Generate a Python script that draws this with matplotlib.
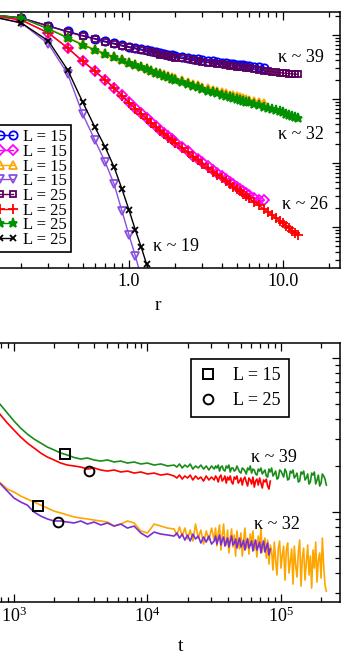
import matplotlib
matplotlib.use('Agg')
import matplotlib.pyplot as plt
import numpy as np
from matplotlib.ticker import LogLocator, FixedLocator, FixedFormatter, NullFormatter

plt.rcParams['font.family'] = ['Liberation Serif', 'DejaVu Serif']
plt.rcParams['mathtext.fontset'] = 'stix'

# ---- top panel: G(r), stored as log10 G ----
r_L25 = [0.1, 0.2, 0.3, 0.4, 0.5, 0.6, 0.7, 0.8, 0.9, 1.0,
         1.1, 1.2, 1.3, 1.4, 1.5, 1.6, 1.7, 1.8, 1.9, 2.0,
         2.2, 2.4, 2.6, 2.8, 3.0,
         3.25, 3.5, 3.75, 4.0, 4.25, 4.5, 4.75, 5.0, 5.25, 5.5, 5.75, 6.0,
         6.5, 7.0, 7.5, 8.0, 8.5, 9.0, 9.5, 10.0, 10.5, 11.0, 11.5, 12.0, 12.5]
r_L15 = r_L25[:40]
r_k19 = [0.1, 0.2, 0.3, 0.4, 0.5, 0.6, 0.7, 0.8, 0.9, 1.0, 1.1, 1.2, 1.3, 1.4, 1.5]

lg39_L15 = [0.344, 0.266, 0.141, 0.055, -0.008, -0.055, -0.098, -0.130, -0.159, -0.183,
            -0.203, -0.222, -0.241, -0.258, -0.272, -0.286, -0.298, -0.309, -0.319, -0.328,
            -0.344, -0.359, -0.372, -0.383, -0.392,
            -0.403, -0.414, -0.423, -0.433, -0.441, -0.448, -0.456, -0.463, -0.469, -0.475, -0.481, -0.486,
            -0.495, -0.503, -0.509]
lg26_L15 = [0.344, 0.234, 0.031, -0.203, -0.414, -0.563, -0.703, -0.828, -0.945, -1.047,
            -1.138, -1.219, -1.292, -1.359, -1.425, -1.484, -1.536, -1.586, -1.630, -1.672,
            -1.750, -1.820, -1.883, -1.941, -1.992,
            -2.053, -2.109, -2.161, -2.211, -2.255, -2.297, -2.336, -2.372, -2.406, -2.438, -2.469, -2.497,
            -2.544, -2.578, -2.586]
lg32_L15 = [0.344, 0.266, 0.102, -0.036, -0.144, -0.222, -0.284, -0.336, -0.381, -0.422,
            -0.458, -0.491, -0.520, -0.547, -0.572, -0.595, -0.617, -0.638, -0.656, -0.675,
            -0.708, -0.738, -0.764, -0.788, -0.809,
            -0.834, -0.856, -0.877, -0.895, -0.913, -0.930, -0.945, -0.959, -0.973, -0.986, -0.998, -1.009,
            -1.031, -1.050, -1.067]
lg19_L15 = [0.344, 0.188, -0.141, -0.609, -1.234, -1.641, -1.984, -2.328, -2.750, -3.125,
            -3.453, -3.781, -4.094, -4.406, -4.719]
lg39_L25 = [0.344, 0.266, 0.141, 0.047, -0.016, -0.063, -0.109, -0.141, -0.172, -0.195,
            -0.216, -0.234, -0.255, -0.273, -0.289, -0.305, -0.317, -0.328, -0.341, -0.352,
            -0.367, -0.383, -0.395, -0.406, -0.417,
            -0.430, -0.441, -0.452, -0.461, -0.469, -0.478, -0.486, -0.494, -0.502, -0.508, -0.516, -0.522,
            -0.534, -0.547, -0.556, -0.566, -0.573, -0.581, -0.588, -0.594, -0.598, -0.603, -0.608, -0.611, -0.614]
lg26_L25 = [0.344, 0.234, 0.031, -0.203, -0.406, -0.563, -0.703, -0.828, -0.953, -1.063,
            -1.152, -1.234, -1.308, -1.375, -1.441, -1.500, -1.552, -1.602, -1.645, -1.688,
            -1.766, -1.836, -1.902, -1.961, -2.016,
            -2.078, -2.133, -2.184, -2.234, -2.281, -2.328, -2.369, -2.406, -2.444, -2.480, -2.514, -2.547,
            -2.609, -2.664, -2.719, -2.766, -2.813, -2.859, -2.903, -2.945, -2.984, -3.023, -3.059, -3.094, -3.125]
lg32_L25 = [0.344, 0.266, 0.094, -0.047, -0.156, -0.234, -0.297, -0.348, -0.395, -0.438,
            -0.473, -0.508, -0.539, -0.567, -0.594, -0.617, -0.639, -0.661, -0.681, -0.700,
            -0.734, -0.766, -0.794, -0.819, -0.842,
            -0.869, -0.892, -0.913, -0.933, -0.952, -0.969, -0.984, -1.000, -1.014, -1.028, -1.041, -1.053,
            -1.077, -1.098, -1.119, -1.138, -1.156, -1.175, -1.192, -1.209, -1.227, -1.244, -1.261, -1.278, -1.297]
lg19_L25 = [0.344, 0.188, -0.094, -0.547, -1.047, -1.438, -1.750, -2.063, -2.406, -2.734,
            -3.047, -3.313, -3.578, -3.844, -4.109]

r_ticks = [0.1, 1.0, 10.0]
r_ticklabels = ['', '1.0', '10.0']

kappa_top = ['κ ~ 39', 'κ ~ 32', 'κ ~ 26', 'κ ~ 19']
kappa_top_r = [13.1, 13.0, 13.8, 2.02]
kappa_top_g = [0.437, 0.0274, 0.00221, 0.000487]

# ---- bottom panel: time series, log10 t and log10 of the quantity ----
logt_a = [2.60, 2.70, 2.80, 2.90, 2.95, 3.00, 3.05, 3.10, 3.15, 3.20,
          3.25, 3.30, 3.35, 3.40, 3.45, 3.50, 3.55, 3.60, 3.65, 3.70,
          3.75, 3.80, 3.85, 3.90, 3.95, 4.00, 4.05, 4.10, 4.15, 4.20,
          4.22, 4.24, 4.26, 4.28, 4.30, 4.32, 4.34, 4.36, 4.38, 4.40,
          4.42, 4.44, 4.46, 4.48,
          4.50, 4.51, 4.52, 4.53, 4.54, 4.55, 4.56, 4.57, 4.58, 4.59,
          4.60, 4.61, 4.62, 4.63, 4.64, 4.65, 4.66, 4.67, 4.68, 4.69,
          4.70, 4.71, 4.72, 4.73, 4.74, 4.75, 4.76, 4.77, 4.78, 4.79,
          4.80, 4.81, 4.82, 4.83, 4.84, 4.85, 4.86, 4.87, 4.88, 4.89,
          4.90, 4.91, 4.92, 4.93, 4.94, 4.95, 4.96, 4.97, 4.98, 4.99,
          5.00, 5.01, 5.02, 5.03, 5.04, 5.05, 5.06, 5.07, 5.08, 5.09,
          5.10, 5.11, 5.12, 5.13, 5.14, 5.15, 5.16, 5.17, 5.18, 5.19,
          5.20, 5.21, 5.22, 5.23, 5.24, 5.25, 5.26, 5.27, 5.28, 5.29,
          5.30, 5.31, 5.32, 5.33, 5.34]
logt_b = logt_a[:87]

lq39_L15 = [0.019, -0.091, -0.208, -0.305, -0.357, -0.409, -0.455, -0.494, -0.526, -0.552,
            -0.578, -0.597, -0.617, -0.630, -0.646, -0.656, -0.649, -0.662, -0.669, -0.662,
            -0.675, -0.669, -0.682, -0.675, -0.688, -0.682, -0.695, -0.688, -0.701, -0.695,
            -0.708, -0.688, -0.714, -0.695, -0.708, -0.688, -0.721, -0.701, -0.714, -0.695,
            -0.721, -0.701, -0.727, -0.701,
            -0.721, -0.701, -0.714, -0.695, -0.734, -0.708, -0.701, -0.727, -0.734, -0.701,
            -0.714, -0.695, -0.740, -0.714, -0.714, -0.734, -0.727, -0.701, -0.721, -0.740,
            -0.747, -0.714, -0.721, -0.734, -0.753, -0.714, -0.727, -0.701, -0.747, -0.721,
            -0.727, -0.753, -0.760, -0.721, -0.734, -0.714, -0.753, -0.740, -0.727, -0.766,
            -0.773, -0.721, -0.740, -0.714, -0.766, -0.753, -0.734, -0.786, -0.779, -0.727,
            -0.734, -0.753, -0.773, -0.721, -0.740, -0.792, -0.786, -0.734, -0.747, -0.727,
            -0.779, -0.766, -0.747, -0.805, -0.799, -0.740, -0.753, -0.734, -0.792, -0.779,
            -0.753, -0.818, -0.805, -0.747, -0.760, -0.740, -0.818, -0.792, -0.760, -0.831,
            -0.812, -0.753, -0.766, -0.786, -0.825]
lq39_L25 = [-0.065, -0.169, -0.273, -0.370, -0.422, -0.468, -0.513, -0.552, -0.584, -0.617,
            -0.643, -0.662, -0.682, -0.695, -0.701, -0.708, -0.721, -0.714, -0.727, -0.734,
            -0.727, -0.740, -0.734, -0.747, -0.740, -0.753, -0.747, -0.760, -0.753, -0.766,
            -0.779, -0.760, -0.786, -0.766, -0.779, -0.760, -0.792, -0.766, -0.786, -0.773,
            -0.799, -0.766, -0.792, -0.773,
            -0.792, -0.766, -0.779, -0.805, -0.773, -0.760, -0.799, -0.786, -0.766, -0.812,
            -0.773, -0.792, -0.766, -0.805, -0.818, -0.773, -0.786, -0.766, -0.812, -0.799,
            -0.779, -0.825, -0.786, -0.773, -0.805, -0.831, -0.779, -0.792, -0.818, -0.773,
            -0.838, -0.799, -0.786, -0.825, -0.779, -0.812, -0.844, -0.792, -0.805, -0.786,
            -0.831, -0.851, -0.799]
lq32_L15 = [-0.532, -0.649, -0.740, -0.812, -0.851, -0.870, -0.896, -0.916, -0.935, -0.955,
            -0.974, -0.994, -1.006, -1.019, -1.032, -1.039, -1.045, -1.052, -1.058, -1.065,
            -1.091, -1.078, -1.058, -1.071, -1.123, -1.136, -1.078, -1.091, -1.104, -1.110,
            -1.149, -1.097, -1.156, -1.104, -1.175, -1.117, -1.188, -1.078, -1.169, -1.117,
            -1.208, -1.123, -1.182, -1.104,
            -1.182, -1.104, -1.221, -1.136, -1.084, -1.247, -1.156, -1.078, -1.188, -1.214,
            -1.117, -1.266, -1.169, -1.110, -1.227, -1.149, -1.286, -1.123, -1.195, -1.240,
            -1.136, -1.286, -1.182, -1.104, -1.234, -1.169, -1.273, -1.143, -1.214, -1.123,
            -1.247, -1.182, -1.292, -1.156, -1.227, -1.110, -1.260, -1.208, -1.169, -1.299,
            -1.182, -1.338, -1.214, -1.253, -1.377, -1.195, -1.312, -1.409, -1.234, -1.188,
            -1.364, -1.279, -1.221, -1.442, -1.247, -1.201, -1.396, -1.318, -1.240, -1.468,
            -1.221, -1.344, -1.422, -1.260, -1.182, -1.481, -1.299, -1.234, -1.442, -1.325,
            -1.214, -1.409, -1.286, -1.494, -1.247, -1.364, -1.195, -1.455, -1.312, -1.266,
            -1.429, -1.169, -1.351, -1.474, -1.513]
lq32_L25 = [-0.565, -0.675, -0.760, -0.818, -0.864, -0.909, -0.935, -0.955, -1.000, -1.026,
            -1.045, -1.058, -1.058, -1.065, -1.071, -1.058, -1.078, -1.065, -1.084, -1.071,
            -1.091, -1.078, -1.104, -1.091, -1.136, -1.162, -1.130, -1.143, -1.149, -1.156,
            -1.136, -1.169, -1.143, -1.182, -1.149, -1.188, -1.143, -1.175, -1.156, -1.201,
            -1.162, -1.195, -1.156, -1.208,
            -1.188, -1.156, -1.208, -1.175, -1.149, -1.214, -1.182, -1.162, -1.221, -1.195,
            -1.169, -1.227, -1.188, -1.156, -1.214, -1.201, -1.175, -1.234, -1.195, -1.169,
            -1.227, -1.208, -1.182, -1.247, -1.201, -1.175, -1.234, -1.214, -1.188, -1.253,
            -1.208, -1.182, -1.247, -1.221, -1.195, -1.266, -1.214, -1.188, -1.260, -1.227,
            -1.201, -1.279, -1.240]

# symbols marking the system size on each curve
sq_logt, sq_logq = [3.382, 3.18], [-0.623, -0.961]
ci_logt, ci_logq = [3.562, 3.33], [-0.734, -1.065]

kappa_bot = ['κ ~ 39', 'κ ~ 32']
kappa_bot_t = [8.93e4, 9.33e4]
kappa_bot_q = [0.2276, 0.0836]

fig = plt.figure(figsize=(3.46, 6.58), dpi=100)
ax1 = fig.add_axes([-0.0723, 0.5927, 1.0549, 0.3891])
ax2 = fig.add_axes([-0.1139, 0.0851, 1.0965, 0.3936])

top_curves = [
    (r_L15, lg39_L15, '#0000ff', 'o', 6.0),
    (r_L15, lg26_L15, '#ff00ff', 'D', 5.0),
    (r_L15, lg32_L15, '#ffa500', '^', 5.5),
    (r_k19, lg19_L15, '#8a4fe0', 'v', 6.0),
    (r_L25, lg39_L25, '#5c005c', 's', 4.5),
    (r_L25, lg26_L25, '#ff0000', '+', 7.0),
    (r_L25, lg32_L25, '#009000', '*', 6.5),
    (r_k19, lg19_L25, '#000000', 'x', 5.0),
]
labels = ['L = 15'] * 4 + ['L = 25'] * 4
for (r, lg, c, m, ms), lab in zip(top_curves, labels):
    filled = m in ('+', 'x', '*')
    ax1.plot(r, 10 ** np.array(lg), color=c, lw=1.0, marker=m, ms=ms,
             mfc=c if filled else 'none', mec=c, mew=1.3, label=lab)

ax1.set_xscale('log')
ax1.set_yscale('log')
ax1.set_xlim(0.1, 23.45)
ax1.set_ylim(2.287e-4, 2.288)
ax1.xaxis.set_major_locator(FixedLocator(r_ticks))
ax1.xaxis.set_major_formatter(FixedFormatter(r_ticklabels))
ax1.xaxis.set_minor_formatter(NullFormatter())
ax1.yaxis.set_major_locator(LogLocator(base=10, numticks=10))
ax1.yaxis.set_minor_locator(LogLocator(base=10, subs=np.arange(2, 10), numticks=20))
ax1.set_xlabel('r', fontsize=14, labelpad=5)
for s, xr, yg in zip(kappa_top, kappa_top_r, kappa_top_g):
    ax1.text(xr, yg, s, ha='center', va='center', fontsize=13)

leg = ax1.legend(loc='lower right', bbox_to_anchor=(0.263, 0.0625), numpoints=2,
                 fontsize=12, handlelength=1.4, handletextpad=0.3, labelspacing=-0.08,
                 borderpad=0.25, borderaxespad=0, fancybox=False, edgecolor='k',
                 framealpha=1)
leg.get_frame().set_linewidth(1.2)

# bottom panel
ax2.plot(10 ** np.array(logt_a), 10 ** np.array(lq39_L15), color='#1a8c1a', lw=1.2)
ax2.plot(10 ** np.array(logt_b), 10 ** np.array(lq39_L25), color='#ff0000', lw=1.2)
ax2.plot(10 ** np.array(logt_a), 10 ** np.array(lq32_L15), color='#ffa500', lw=1.2)
ax2.plot(10 ** np.array(logt_b), 10 ** np.array(lq32_L25), color='#7b2fd0', lw=1.2)
ax2.plot(10 ** np.array(sq_logt), 10 ** np.array(sq_logq), ls='none', marker='s',
         ms=6.5, mfc='none', mec='k', mew=1.4, label='L = 15')
ax2.plot(10 ** np.array(ci_logt), 10 ** np.array(ci_logq), ls='none', marker='o',
         ms=7, mfc='none', mec='k', mew=1.4, label='L = 25')

ax2.set_xscale('log')
ax2.set_yscale('log')
ax2.set_xlim(10 ** 2.6, 2.767e5)
ax2.set_ylim(0.02606, 1.251)
ax2.xaxis.set_minor_formatter(NullFormatter())
ax2.yaxis.set_minor_locator(LogLocator(base=10, subs=np.arange(2, 10), numticks=20))
ax2.set_xlabel('t', fontsize=14)
ax2.xaxis.set_label_coords(0.58, -0.14)
for s, xt, yq in zip(kappa_bot, kappa_bot_t, kappa_bot_q):
    ax2.text(xt, yq, s, ha='center', va='center', fontsize=13)

leg2 = ax2.legend(loc='upper right', bbox_to_anchor=(0.865, 0.938), numpoints=1,
                  fontsize=13, handlelength=1.0, handletextpad=0.9, labelspacing=0.45,
                  borderpad=0.45, borderaxespad=0, fancybox=False, edgecolor='k',
                  framealpha=1)
leg2.get_frame().set_linewidth(1.2)

for ax in (ax1, ax2):
    ax.tick_params(which='both', direction='in', top=True, right=True, labelsize=13,
                   width=0.9, labelleft=False)
    ax.tick_params(which='major', length=6)
    ax.tick_params(which='minor', length=3.5)
    for sp in ax.spines.values():
        sp.set_linewidth(1.1)

fig.savefig('out.png', dpi=100)
